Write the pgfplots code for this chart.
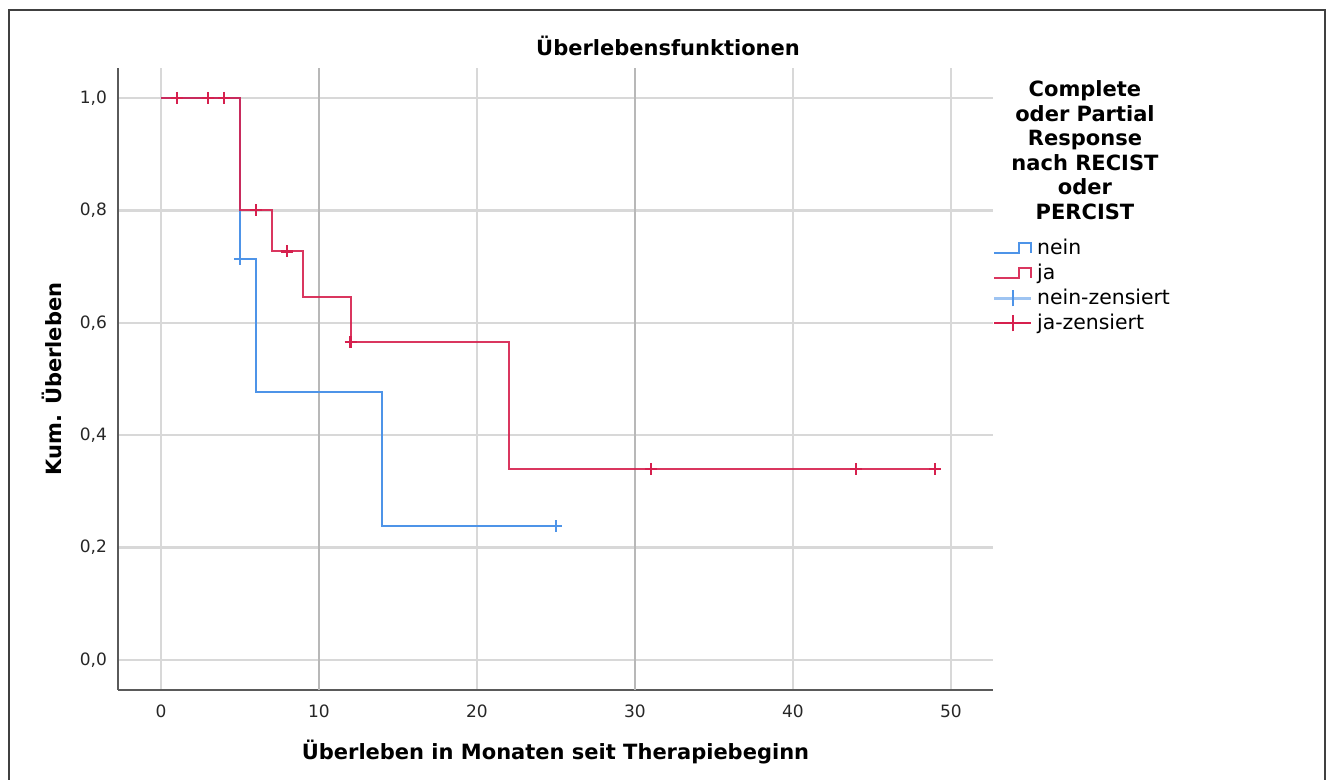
\documentclass[border=0pt]{standalone}
\usepackage{fontspec}
\setmainfont{DejaVu Sans}
\usepackage{pgfplots}
\pgfplotsset{compat=1.18}

\definecolor{kmblue}{RGB}{78,148,232}
\definecolor{kmred}{RGB}{214,32,78}
\definecolor{lightgrid}{RGB}{216,216,216}
\definecolor{darkgrid}{RGB}{184,184,184}
\definecolor{axisgray}{RGB}{90,90,90}

\begin{document}
\begin{tikzpicture}
\path[use as bounding box] (0,0) rectangle (666pt,390pt);
\draw[line width=0.9pt, black!75] (4.5pt,0) -- (4.5pt,385pt) -- (662.5pt,385pt) -- (662.5pt,0);

\begin{axis}[
  at={(59pt,45pt)}, anchor=south west,
  scale only axis, width=437.5pt, height=311pt,
  xmin=-2.72, xmax=52.66, ymin=-0.0534, ymax=1.0534,
  clip mode=individual,
  axis lines=left, axis line style={-, axisgray, line width=0.75pt},
  major tick length=0pt,
  xtick={0,20,40,50},
  extra x ticks={10,30},
  extra x tick style={major grid style={color=darkgrid, line width=0.7pt}},
  ytick={0,0.2,0.4,0.6,0.8,1.0},
  grid=major,
  major grid style={color=lightgrid, line width=1.2pt},
  /pgf/number format/assume math mode=true,
  ticklabel style={font=\fontsize{8.5}{10}\selectfont, text=black!85},
  xticklabel style={yshift=-4pt},
  yticklabel style={xshift=-2pt, /pgf/number format/fixed, /pgf/number format/fixed zerofill,
    /pgf/number format/precision=1, /pgf/number format/use comma},
  xlabel={Überleben in Monaten seit Therapiebeginn},
  xlabel style={at={(axis description cs:0.5,-0.0997)}, anchor=center,
    font=\bfseries\fontsize{10.5}{12}\selectfont},
  ylabel={Kum. Überleben},
  ylabel style={at={(axis description cs:-0.0754,0.5)}, anchor=center,
    font=\bfseries\fontsize{10.5}{12}\selectfont},
  legend style={at={(axis description cs:0.999,0.7307)}, anchor=north west,
    draw=none, fill=none, inner sep=0pt, row sep=0pt, column sep=0pt,
    font=\fontsize{10.2}{12}\selectfont,
    nodes={inner ysep=0pt, inner xsep=2.2pt, minimum height=12.5pt}},
  legend cell align=left,
]
% survival curves (Kaplan-Meier steps)
\addplot[const plot, kmblue, line width=1pt,
  legend image code/.code={\draw[kmblue, line width=0.9pt] (0pt,-2.5pt) -- (12.5pt,-2.5pt) -- (12.5pt,2.5pt) -- (18.5pt,2.5pt) -- (18.5pt,-2.5pt);}]
  coordinates {(0,1) (5,0.714) (6,0.476) (14,0.238) (25,0.238)};
\addlegendentry{nein}
\addplot[const plot, kmred, opacity=0.9, line width=1pt,
  legend image code/.code={\draw[kmred, line width=0.9pt] (0pt,-2.5pt) -- (12.5pt,-2.5pt) -- (12.5pt,2.5pt) -- (18.5pt,2.5pt) -- (18.5pt,-2.5pt);}]
  coordinates {(0,1) (5,0.8) (7,0.727) (9,0.646) (12,0.566) (22,0.340) (49,0.340)};
\addlegendentry{ja}
% censored observations
\addplot[only marks, mark=+, mark size=3pt, kmblue, mark options={line width=1.1pt},
  legend image code/.code={\draw[kmblue!55, line width=1.6pt] (0pt,0pt) -- (18.5pt,0pt); \draw[kmblue, line width=0.9pt] (9.25pt,-4pt) -- (9.25pt,4pt);}]
  coordinates {(5,0.714) (25,0.238)};
\addlegendentry{nein-zensiert}
\addplot[only marks, mark=+, mark size=3pt, kmred, mark options={line width=1.1pt},
  legend image code/.code={\draw[kmred, line width=1pt] (0pt,0pt) -- (18.5pt,0pt); \draw[kmred, line width=0.9pt] (9.25pt,-4pt) -- (9.25pt,4pt);}]
  coordinates {(1,1) (3,1) (4,1) (6,0.8) (8,0.727) (12,0.566) (31,0.340) (44,0.340) (49,0.340)};
\addlegendentry{ja-zensiert}

\node[font=\bfseries\fontsize{10.5}{12}\selectfont]
  at (axis description cs:0.6286,1.0354) {Überlebensfunktionen};
\node[align=center, font=\bfseries\fontsize{10.5}{12.25}\selectfont]
  at (axis description cs:1.1051,0.8682)
  {Complete\\oder Partial\\Response\\nach RECIST\\oder\\PERCIST};
\end{axis}
\end{tikzpicture}
\end{document}
